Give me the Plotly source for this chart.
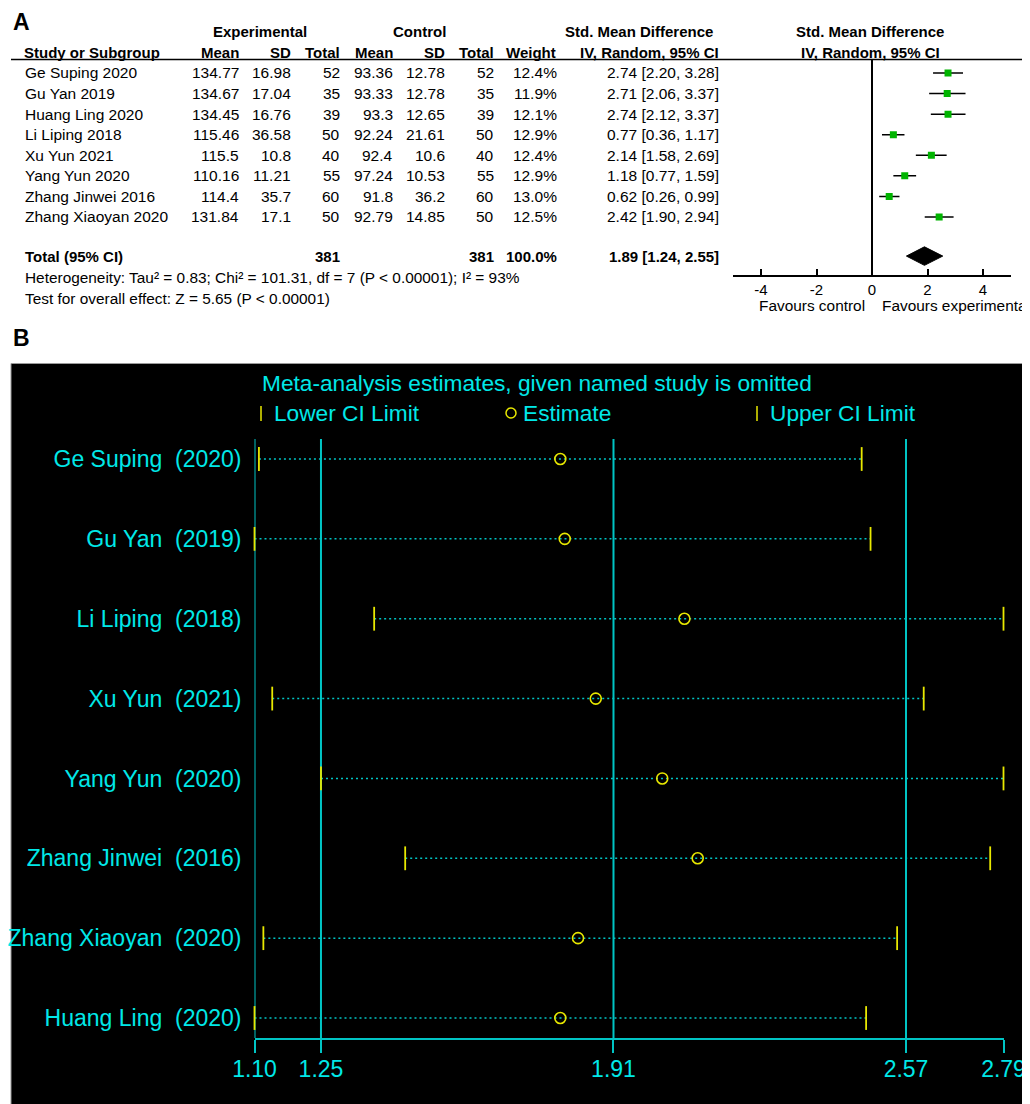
import plotly.graph_objects as go

# page geometry (the browser body has an 8px margin)
OFF = 8
W, H = 1030 - OFF, 1104 - OFF

# ---------------- Panel A data ----------------
studies = ["Ge Suping 2020", "Gu Yan 2019", "Huang Ling 2020", "Li Liping 2018",
           "Xu Yun 2021", "Yang Yun 2020", "Zhang Jinwei 2016", "Zhang Xiaoyan 2020"]
exp_mean = [134.77, 134.67, 134.45, 115.46, 115.5, 110.16, 114.4, 131.84]
exp_sd = [16.98, 17.04, 16.76, 36.58, 10.8, 11.21, 35.7, 17.1]
exp_n = [52, 35, 39, 50, 40, 55, 60, 50]
ctl_mean = [93.36, 93.33, 93.3, 92.24, 92.4, 97.24, 91.8, 92.79]
ctl_sd = [12.78, 12.78, 12.65, 21.61, 10.6, 10.53, 36.2, 14.85]
ctl_n = [52, 35, 39, 50, 40, 55, 60, 50]
weight = [12.4, 11.9, 12.1, 12.9, 12.4, 12.9, 13.0, 12.5]
smd = [2.74, 2.71, 2.74, 0.77, 2.14, 1.18, 0.62, 2.42]
smd_lo = [2.20, 2.06, 2.12, 0.36, 1.58, 0.77, 0.26, 1.90]
smd_hi = [3.28, 3.37, 3.37, 1.17, 2.69, 1.59, 0.99, 2.94]
total_exp_n, total_ctl_n, total_weight = 381, 381, 100.0
total_smd, total_lo, total_hi = 1.89, 1.24, 2.55
forest_ticks = [-4, -2, 0, 2, 4]
heterogeneity = "Heterogeneity: Tau² = 0.83; Chi² = 101.31, df = 7 (P < 0.00001); I² = 93%"
overall = "Test for overall effect: Z = 5.65 (P < 0.00001)"

# ---------------- Panel B data ----------------
omit_labels = ["Ge Suping  (2020)", "Gu Yan  (2019)", "Li Liping  (2018)", "Xu Yun  (2021)",
               "Yang Yun  (2020)", "Zhang Jinwei  (2016)", "Zhang Xiaoyan  (2020)", "Huang Ling  (2020)"]
omit_est = [1.79, 1.80, 2.07, 1.87, 2.02, 2.10, 1.83, 1.79]
omit_lo = [1.11, 1.10, 1.37, 1.14, 1.25, 1.44, 1.12, 1.10]
omit_hi = [2.47, 2.49, 2.79, 2.61, 2.79, 2.76, 2.55, 2.48]
sens_ticks = [1.10, 1.25, 1.91, 2.57, 2.79]

FONT = "Liberation Sans, Arial, sans-serif"
CYAN_T = "#00e8e8"
CYAN_L = "#00c4c4"
YEL = "#e8e800"


def px(x):
    return (x - OFF) / W


def py(y):
    return 1 - (y - OFF) / H


fig = go.Figure()
ann = []
shapes = []

# ---------- Panel A : forest plot ----------
rows = list(range(len(studies)))
total_row = 8.9
row0, rstep = 73, 20.57

cx, cy = [], []
for i in rows:
    cx += [smd_lo[i], smd_hi[i], None]
    cy += [i, i, None]
fig.add_trace(go.Scatter(x=cx, y=cy, mode="lines", line=dict(color="black", width=1.5),
                         xaxis="x", yaxis="y", hoverinfo="skip", showlegend=False))
fig.add_trace(go.Scatter(x=smd, y=rows, mode="markers",
                         marker=dict(symbol="square", size=7, color="#00b400"),
                         xaxis="x", yaxis="y", showlegend=False))
dh = 0.45
fig.add_trace(go.Scatter(x=[total_lo, total_smd, total_hi, total_smd, total_lo],
                         y=[total_row, total_row - dh, total_row, total_row + dh, total_row],
                         mode="lines", fill="toself", fillcolor="black",
                         line=dict(color="black", width=1), xaxis="x", yaxis="y",
                         showlegend=False, hoverinfo="skip"))


def row_text(x, vals, anchor="right"):
    for i, v in zip(rows, vals):
        ann.append(dict(x=px(x), xref="paper", y=i, yref="y", text=v, showarrow=False,
                        xanchor=anchor, yanchor="middle",
                        font=dict(family=FONT, size=15.5, color="black")))


fmt = lambda v: f"{v:g}"
row_text(23, studies, anchor="left")
row_text(241, [fmt(v) for v in exp_mean])
row_text(293, [fmt(v) for v in exp_sd])
row_text(342, [str(v) for v in exp_n])
row_text(395, [fmt(v) for v in ctl_mean])
row_text(447, [fmt(v) for v in ctl_sd])
row_text(496, [str(v) for v in ctl_n])
row_text(559, [f"{v:.1f}%" for v in weight])
row_text(721, [f"{m:.2f} [{l:.2f}, {h:.2f}]" for m, l, h in zip(smd, smd_lo, smd_hi)])


def tot(x, text, anchor="right"):
    ann.append(dict(x=px(x), xref="paper", y=total_row, yref="y", text=f"<b>{text}</b>",
                    showarrow=False, xanchor=anchor, yanchor="middle",
                    font=dict(family=FONT, size=15, color="black")))


tot(23, "Total (95% CI)", "left")
tot(342, str(total_exp_n))
tot(496, str(total_ctl_n))
tot(559, f"{total_weight:.1f}%")
tot(721, f"{total_smd:.2f} [{total_lo:.2f}, {total_hi:.2f}]")


def ptext(x, y, text, anchor="left", size=15, bold=False, color="black"):
    ann.append(dict(x=px(x), xref="paper", y=py(y), yref="paper",
                    text=f"<b>{text}</b>" if bold else text, showarrow=False,
                    xanchor=anchor, yanchor="middle",
                    font=dict(family=FONT, size=size, color=color)))


ptext(11, 22, "A", size=23, bold=True)
ptext(260, 32, "Experimental", "center", bold=True)
ptext(419, 32, "Control", "center", bold=True)
ptext(639, 32, "Std. Mean Difference", "center", bold=True)
ptext(870, 32, "Std. Mean Difference", "center", bold=True)
ptext(22, 52, "Study or Subgroup", "left", bold=True)
for x, t in [(241, "Mean"), (293, "SD"), (342, "Total"), (395, "Mean"),
             (447, "SD"), (496, "Total"), (558, "Weight"), (721, "IV, Random, 95% CI")]:
    ptext(x, 52, t, "right", bold=True)
ptext(870, 52, "IV, Random, 95% CI", "center", bold=True)
shapes.append(dict(type="line", xref="paper", yref="paper", x0=px(11), x1=1.01,
                   y0=py(59.5), y1=py(59.5), line=dict(color="black", width=1.5)))
ptext(23, 277, heterogeneity, size=15.4)
ptext(23, 298, overall, size=15.4)
ptext(867, 305, "Favours control", "right", size=15.4)
ptext(880, 305, "Favours experimental", "left", size=15.4)

# ---------- Panel B : sensitivity ----------
shapes.append(dict(type="rect", xref="paper", yref="paper", x0=px(11), x1=1.01,
                   y0=-0.01, y1=py(363.5), fillcolor="black",
                   line=dict(color="#9a9a9a", width=1), layer="below"))
ptext(11, 338, "B", size=23, bold=True)
ptext(537, 383, "Meta-analysis estimates, given named study is omitted", "center",
      size=22.7, color=CYAN_T)
ptext(272, 413, "Lower CI Limit", "left", size=22.7, color=CYAN_T)
ptext(521, 413, "Estimate", "left", size=22.7, color=CYAN_T)
ptext(768, 413, "Upper CI Limit", "left", size=22.7, color=CYAN_T)
for xx in (261, 757):
    shapes.append(dict(type="line", xref="paper", yref="paper", x0=px(xx), x1=px(xx),
                       y0=py(406), y1=py(421), line=dict(color=YEL, width=1.5)))
shapes.append(dict(type="circle", xref="paper", yref="paper", x0=px(506), x1=px(516),
                   y0=py(408), y1=py(418), line=dict(color=YEL, width=1.5)))

for t in sens_ticks[:-1]:
    shapes.append(dict(type="line", xref="x2", yref="y2 domain", x0=t, x1=t, y0=0, y1=1,
                       line=dict(color=CYAN_L, width=2), layer="below"))

brows = list(range(len(omit_labels)))
dx, dy = [], []
for i in brows:
    dx += [omit_lo[i], omit_hi[i], None]
    dy += [i, i, None]
fig.add_trace(go.Scatter(x=dx, y=dy, mode="lines",
                         line=dict(color=CYAN_L, width=1.5, dash="2px,3px"),
                         xaxis="x2", yaxis="y2", hoverinfo="skip", showlegend=False))
fig.add_trace(go.Scatter(x=omit_lo + omit_hi, y=brows + brows, mode="markers",
                         marker=dict(symbol="line-ns", size=17, color=YEL,
                                     line=dict(color=YEL, width=1.8)),
                         xaxis="x2", yaxis="y2", showlegend=False, cliponaxis=False))
fig.add_trace(go.Scatter(x=omit_est, y=brows, mode="markers",
                         marker=dict(symbol="circle-open", size=11, color=YEL,
                                     line=dict(color=YEL, width=1.6)),
                         xaxis="x2", yaxis="y2", showlegend=False, cliponaxis=False))

b_top, b_bot, b_row0, b_step = 439, 1038, 459, 79.86
a_top, a_bot = 59, 275

fig.update_layout(
    width=W, height=H, margin=dict(l=0, r=0, t=0, b=0, pad=0, autoexpand=False),
    paper_bgcolor="white", plot_bgcolor="rgba(0,0,0,0)",
    showlegend=False,
    xaxis=dict(domain=[px(733.25), px(1010.75)], range=[-5, 5], tickvals=forest_ticks,
               ticktext=[str(t) for t in forest_ticks], showgrid=False,
               zeroline=True, zerolinecolor="black", zerolinewidth=1.5,
               showline=True, linecolor="black", linewidth=1.5,
               ticks="inside", ticklen=6, tickwidth=1.5, tickcolor="black",
               tickfont=dict(family=FONT, size=15, color="black"), anchor="y",
               automargin=False, fixedrange=True),
    yaxis=dict(domain=[py(a_bot), py(a_top)],
               range=[(a_bot - row0) / rstep, (a_top - row0) / rstep],
               visible=False, anchor="x", automargin=False, fixedrange=True),
    xaxis2=dict(domain=[px(254.5), px(1003.5)], range=[1.10, 2.79], tickvals=sens_ticks,
                ticktext=[f"{t:.2f}" for t in sens_ticks], showgrid=False, zeroline=False,
                showline=True, linecolor=CYAN_L, linewidth=2,
                ticks="outside", ticklen=13, tickwidth=2, tickcolor=CYAN_L,
                ticklabelstandoff=-4,
                tickfont=dict(family=FONT, size=23, color=CYAN_T), anchor="y2",
                automargin=False, fixedrange=True),
    yaxis2=dict(domain=[py(b_bot), py(b_top)],
                range=[(b_bot - b_row0) / b_step, (b_top - b_row0) / b_step],
                tickvals=brows, ticktext=omit_labels, showgrid=False, zeroline=False,
                showline=False, ticks="", ticklabelstandoff=12,
                tickfont=dict(family=FONT, size=23, color=CYAN_T), anchor="x2",
                automargin=False, fixedrange=True),
    annotations=ann, shapes=shapes,
)

fig.write_html("out.html")
